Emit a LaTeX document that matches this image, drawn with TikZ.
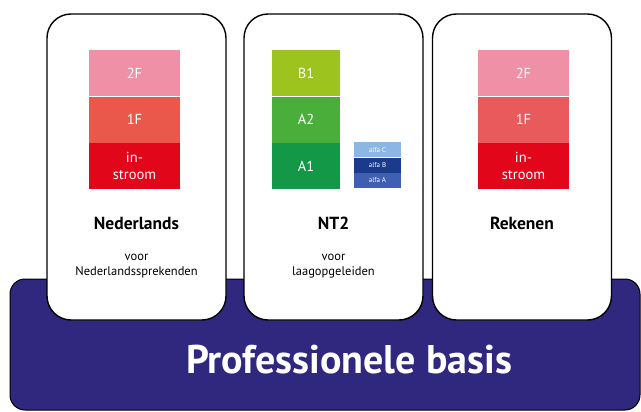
\documentclass[tikz,border=0pt]{standalone}
\usepackage{fontspec}
\setmainfont{PT Sans}
\usetikzlibrary{positioning}
\definecolor{basisblue}{HTML}{30287E}
\definecolor{level2f}{HTML}{EF90A6}
\definecolor{level1f}{HTML}{E9584A}
\definecolor{level1fr}{HTML}{E95A5C}
\definecolor{levelin}{HTML}{E2061A}
\definecolor{levelb1}{HTML}{9CC31E}
\definecolor{levela2}{HTML}{4AAE3B}
\definecolor{levela1}{HTML}{129846}
\definecolor{alfac}{HTML}{8DB6E2}
\definecolor{alfab}{HTML}{1C3A8C}
\definecolor{alfaa}{HTML}{3F5FB3}
\tikzset{
    basis/.style={draw=black, line width=1pt, fill=basisblue, rounded corners=15pt,
        minimum width=630pt, minimum height=131pt},
    card/.style={draw=black, line width=1.4pt, fill=white, rounded corners=24pt,
        minimum width=179pt, minimum height=306pt},
    level/.style={inner sep=0pt, minimum width=91pt, minimum height=46pt, text=white,
        align=center, font=\fontsize{14.5}{17}\selectfont},
    nt2level/.style={level, minimum width=68pt},
    alfalevel/.style={inner sep=0pt, minimum width=47pt, minimum height=15pt, text=white,
        font=\fontsize{7}{7}\selectfont},
    cardtitle/.style={font=\bfseries\fontsize{17.5}{20}\selectfont},
    cardsub/.style={align=center, font=\fontsize{12.5}{15}\selectfont},
    basislabel/.style={text=white, font=\bfseries\fontsize{40}{44}\selectfont}
}
\begin{document}
\begin{tikzpicture}[x=1pt,y=-1pt]
	\useasboundingbox (0,0) rectangle (641,412);
	\node[basis] (base) at (325,344.5) {};
	\node[basislabel] (basistext) at (349,360) {Professionele basis};
	% cards
	\node[card] (nl) at (136.5,167) {};
	\node[card] (nt) at (333.5,167) {};
	\node[card] (rk) at (522,167) {};
	% Nederlands
	\node[level, fill=level2f, anchor=north] (nl2f) at (134.5,50) {2F};
	\node[level, fill=level1f, below=0pt of nl2f] (nl1f) {1F};
	\node[level, fill=levelin, below=0pt of nl1f] (nlin) {in-\\stroom};
	\node[cardtitle] (nltitle) at (136.5,223) {Nederlands};
	\node[cardsub] (nlsub) at (136.5,266) {voor\\Nederlandssprekenden};
	% NT2
	\node[nt2level, fill=levelb1, anchor=north] (ntb1) at (306,50) {B1};
	\node[nt2level, fill=levela2, below=0pt of ntb1] (nta2) {A2};
	\node[nt2level, fill=levela1, below=0pt of nta2] (nta1) {A1};
	\node[alfalevel, fill=alfac, anchor=north] (ntalfac) at (377.5,142) {alfa C};
	\node[alfalevel, fill=alfab, below=0pt of ntalfac] (ntalfab) {alfa B};
	\node[alfalevel, fill=alfaa, below=0pt of ntalfab] (ntalfaa) {alfa A};
	\node[cardtitle] (nttitle) at (333.5,223) {NT2};
	\node[cardsub] (ntsub) at (333.5,266) {voor\\laagopgeleiden};
	% Rekenen
	\node[level, fill=level2f, anchor=north] (rk2f) at (523.5,50) {2F};
	\node[level, fill=level1fr, below=0pt of rk2f] (rk1f) {1F};
	\node[level, fill=levelin, below=0pt of rk1f] (rkin) {in-\\stroom};
	\node[cardtitle] (rktitle) at (522,223) {Rekenen};
\end{tikzpicture}
\end{document}
